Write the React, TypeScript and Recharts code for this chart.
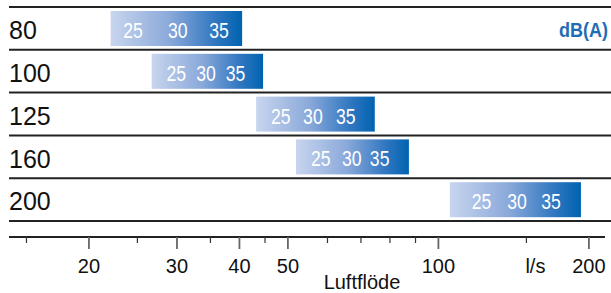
import React from "react";
import { Bar, CartesianGrid, ComposedChart, XAxis, YAxis } from "recharts";

// duct sizes (rows) and flow range in l/s for each
const rows = ["80", "100", "125", "160", "200"];
const flowMin = [22.1, 26.7, 43.2, 51.9, 105.4];
const flowMax = [40.5, 44.6, 74.6, 87.3, 192.8];

// flow where each sound level is reached
const dbLevels = ["25", "30", "35"];
const flowAt25 = [24.5, 29.9, 48.4, 58.2, 122];
const flowAt30 = [30.1, 34.3, 56.1, 67.1, 143.6];
const flowAt35 = [36.4, 39.3, 65.3, 76.3, 168];

const xTicks = [15, 20, 25, 30, 35, 40, 45, 50, 60, 70, 80, 90, 100, 150, 200];
const tickLabels: Record<number, string> = { 20: "20", 30: "30", 40: "40", 50: "50", 100: "100", 150: "l/s", 200: "200" };
const majorTicks = [20, 30, 40, 50, 100, 200];

const data = rows.map((row, i) => ({
    row,
    range: [flowMin[i], flowMax[i]],
    levels: [flowAt25[i], flowAt30[i], flowAt35[i]],
}));

const FONT = "'Liberation Sans', Arial, Helvetica, sans-serif";

function RangeShape(props: any) {
    const { x, y, width, height, payload } = props;
    const [s, e] = payload.range;
    const cy = y + height / 2;
    const pos = (v: number) => x + (width * (Math.log(v) - Math.log(s))) / (Math.log(e) - Math.log(s));
    return (
        <g>
            <rect x={x} y={y} width={width} height={height} fill="url(#barGrad)" />
            {payload.levels.map((v: number, k: number) => (
                <text
                    key={k}
                    x={0}
                    y={0}
                    transform={`translate(${pos(v)},${cy + 9.5}) scale(0.8,1)`}
                    textAnchor="middle"
                    fill="#fff"
                    fontSize={22}
                    fontFamily={FONT}
                >
                    {dbLevels[k]}
                </text>
            ))}
        </g>
    );
}

function RowTick(props: any) {
    const { x, y, payload, index } = props;
    return (
        <g>
            <text x={x} y={y + 10.8} textAnchor="start" fill="#111" fontSize={25} fontFamily={FONT}>
                {payload.value}
            </text>
            {index === 0 && (
                <text
                    x={0}
                    y={0}
                    transform={`translate(608,${y + 8.5}) scale(0.9,1)`}
                    textAnchor="end"
                    fill="#1f6db3"
                    fontSize={20}
                    fontWeight="bold"
                    fontFamily={FONT}
                >
                    dB(A)
                </text>
            )}
        </g>
    );
}

function FlowTick(props: any) {
    const { x, y, payload } = props;
    const v = payload.value;
    const major = majorTicks.includes(v);
    const label = tickLabels[v];
    return (
        <g>
            <line x1={x} x2={x} y1={y} y2={y + (major ? 12 : 6)} stroke={major ? "#666" : "#333"} strokeWidth={major ? 1.8 : 1.2} />
            {label && (
                <text x={x + (v === 150 ? 9 : 0)} y={y + 36} textAnchor="middle" fill="#111" fontSize={20} fontFamily={FONT}>
                    {label}
                </text>
            )}
        </g>
    );
}

export default function App() {
    return (
        <div style={{ position: "absolute", left: 0, top: 0, width: 611, height: 293, background: "#fff" }}>
            <ComposedChart
                layout="vertical"
                width={611}
                height={293}
                data={data}
                margin={{ top: 7, right: 6, bottom: 0, left: 0 }}
            >
                <defs>
                    <linearGradient id="barGrad" x1="0" y1="0" x2="1" y2="0">
                        <stop offset="0%" stopColor="#c8d5ee" />
                        <stop offset="45%" stopColor="#8aa9da" />
                        <stop offset="80%" stopColor="#2f76c0" />
                        <stop offset="100%" stopColor="#0063b0" />
                    </linearGradient>
                </defs>
                <CartesianGrid
                    vertical={false}
                    stroke="#222"
                    strokeWidth={2}
                    horizontalCoordinatesGenerator={({ offset }: any) => {
                        const band = (offset.height - 16) / rows.length;
                        return rows.map((_, i) => offset.top + i * band).concat(offset.top + rows.length * band);
                    }}
                    horizontal={(p: any) => (
                        <line key={p.key ?? p.index} x1={p.x1} x2={611} y1={p.y1} y2={p.y2} stroke="#222" strokeWidth={2} />
                    )}
                />
                <XAxis
                    type="number"
                    scale="log"
                    domain={[13.84, 215.4]}
                    allowDataOverflow
                    ticks={xTicks}
                    interval={0}
                    height={56}
                    tickSize={0}
                    tickMargin={0}
                    tickLine={false}
                    axisLine={{ stroke: "#222", strokeWidth: 2 }}
                    tick={<FlowTick />}
                    label={{
                        value: "Luftflöde",
                        content: () => (
                            <text x={362} y={289} textAnchor="middle" fill="#111" fontSize={20} fontFamily={FONT}>
                                Luftflöde
                            </text>
                        ),
                    }}
                />
                <YAxis
                    type="category"
                    dataKey="row"
                    width={9}
                    padding={{ top: 0, bottom: 16 }}
                    tickSize={0}
                    tickMargin={0}
                    axisLine={false}
                    tickLine={false}
                    tick={<RowTick />}
                />
                <Bar dataKey="range" barSize={35} shape={<RangeShape />} isAnimationActive={false} />
            </ComposedChart>
        </div>
    );
}
